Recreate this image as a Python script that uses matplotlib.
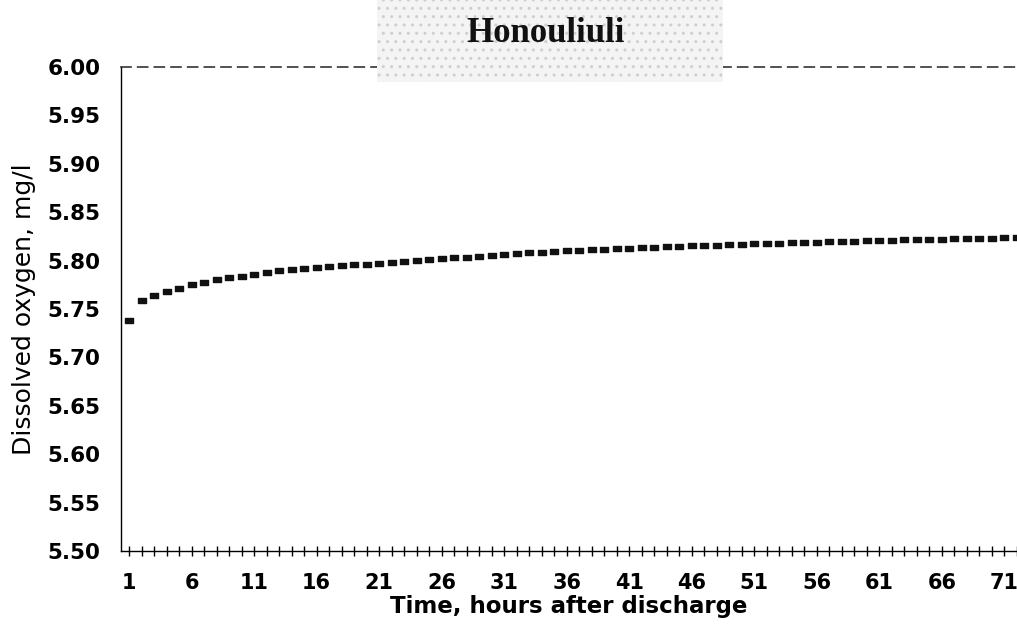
import matplotlib.pyplot as plt
from matplotlib.patches import Rectangle
from matplotlib.path import Path

# hours after discharge and dissolved oxygen (mg/l)
hours = list(range(1, 73))
oxygen = [5.739, 5.759, 5.764, 5.769, 5.772, 5.776, 5.778, 5.781, 5.783, 5.784,
          5.786, 5.788, 5.790, 5.791, 5.792, 5.793, 5.794, 5.795, 5.796, 5.797,
          5.798, 5.799, 5.800, 5.801, 5.802, 5.803, 5.804, 5.804, 5.805, 5.806,
          5.807, 5.808, 5.809, 5.809, 5.810, 5.811, 5.811, 5.812, 5.812, 5.813,
          5.813, 5.814, 5.814, 5.815, 5.815, 5.816, 5.816, 5.816, 5.817, 5.817,
          5.818, 5.818, 5.818, 5.819, 5.819, 5.819, 5.820, 5.820, 5.820, 5.821,
          5.821, 5.821, 5.822, 5.822, 5.822, 5.822, 5.823, 5.823, 5.823, 5.823,
          5.824, 5.824]

x_labels = [1, 6, 11, 16, 21, 26, 31, 36, 41, 46, 51, 56, 61, 66, 71]
y_ticks = [5.50, 5.55, 5.60, 5.65, 5.70, 5.75, 5.80, 5.85, 5.90, 5.95, 6.00]

# short horizontal dash used as marker
dash = Path([(-1, -0.6), (1, -0.6), (1, 0.6), (-1, 0.6), (-1, -0.6)],
            [Path.MOVETO, Path.LINETO, Path.LINETO, Path.LINETO, Path.CLOSEPOLY])

fig = plt.figure(figsize=(10.17, 6.29), dpi=100)
ax = fig.add_axes([121 / 1017, 1 - 551 / 629, 1 - 121 / 1017, (551 - 67) / 629])

# grey stippled title box
fig.patches.append(Rectangle((377 / 1017, 1 - 82 / 629), (723 - 377) / 1017, 82 / 629,
                             transform=fig.transFigure, facecolor='#f4f4f4',
                             edgecolor='#cfcfcf', hatch='..', lw=0, zorder=0))
fig.text(546 / 1017, 1 - 42 / 629, 'Honouliuli', ha='center', va='baseline',
         fontsize=25, fontweight='bold', family='Liberation Serif', color='#111111')

ax.plot(hours, oxygen, linestyle='none', marker=dash, markersize=6,
        color='#111111', clip_on=True)

ax.set_xlim(0.36, 71.9)
ax.set_ylim(5.5, 6.0)
ax.set_xticks(x_labels)
ax.set_xticks(hours, minor=True)
ax.set_yticks(y_ticks)
ax.set_yticklabels(['%.2f' % v for v in y_ticks])

ax.patch.set_alpha(0)
ax.spines['right'].set_visible(False)
ax.spines['top'].set_linestyle((0, (6, 4)))
ax.spines['top'].set_color('#333333')
ax.spines['top'].set_linewidth(1.2)
ax.spines['left'].set_linewidth(1.0)
ax.spines['bottom'].set_linewidth(1.0)

ax.tick_params(axis='x', which='both', direction='inout', length=7, width=1, pad=12,
               labelsize=15)
ax.tick_params(axis='y', length=0, pad=15, labelsize=15.5)
for lab in ax.get_xticklabels() + ax.get_yticklabels():
    lab.set_fontweight('bold')
    lab.set_family('DejaVu Sans')

ax.set_xlabel('Time, hours after discharge', fontsize=16.5, fontweight='bold',
              family='DejaVu Sans', labelpad=2)
ax.set_ylabel('Dissolved oxygen, mg/l', fontsize=18, family='DejaVu Sans', labelpad=8)

fig.savefig('out.png', dpi=100)
